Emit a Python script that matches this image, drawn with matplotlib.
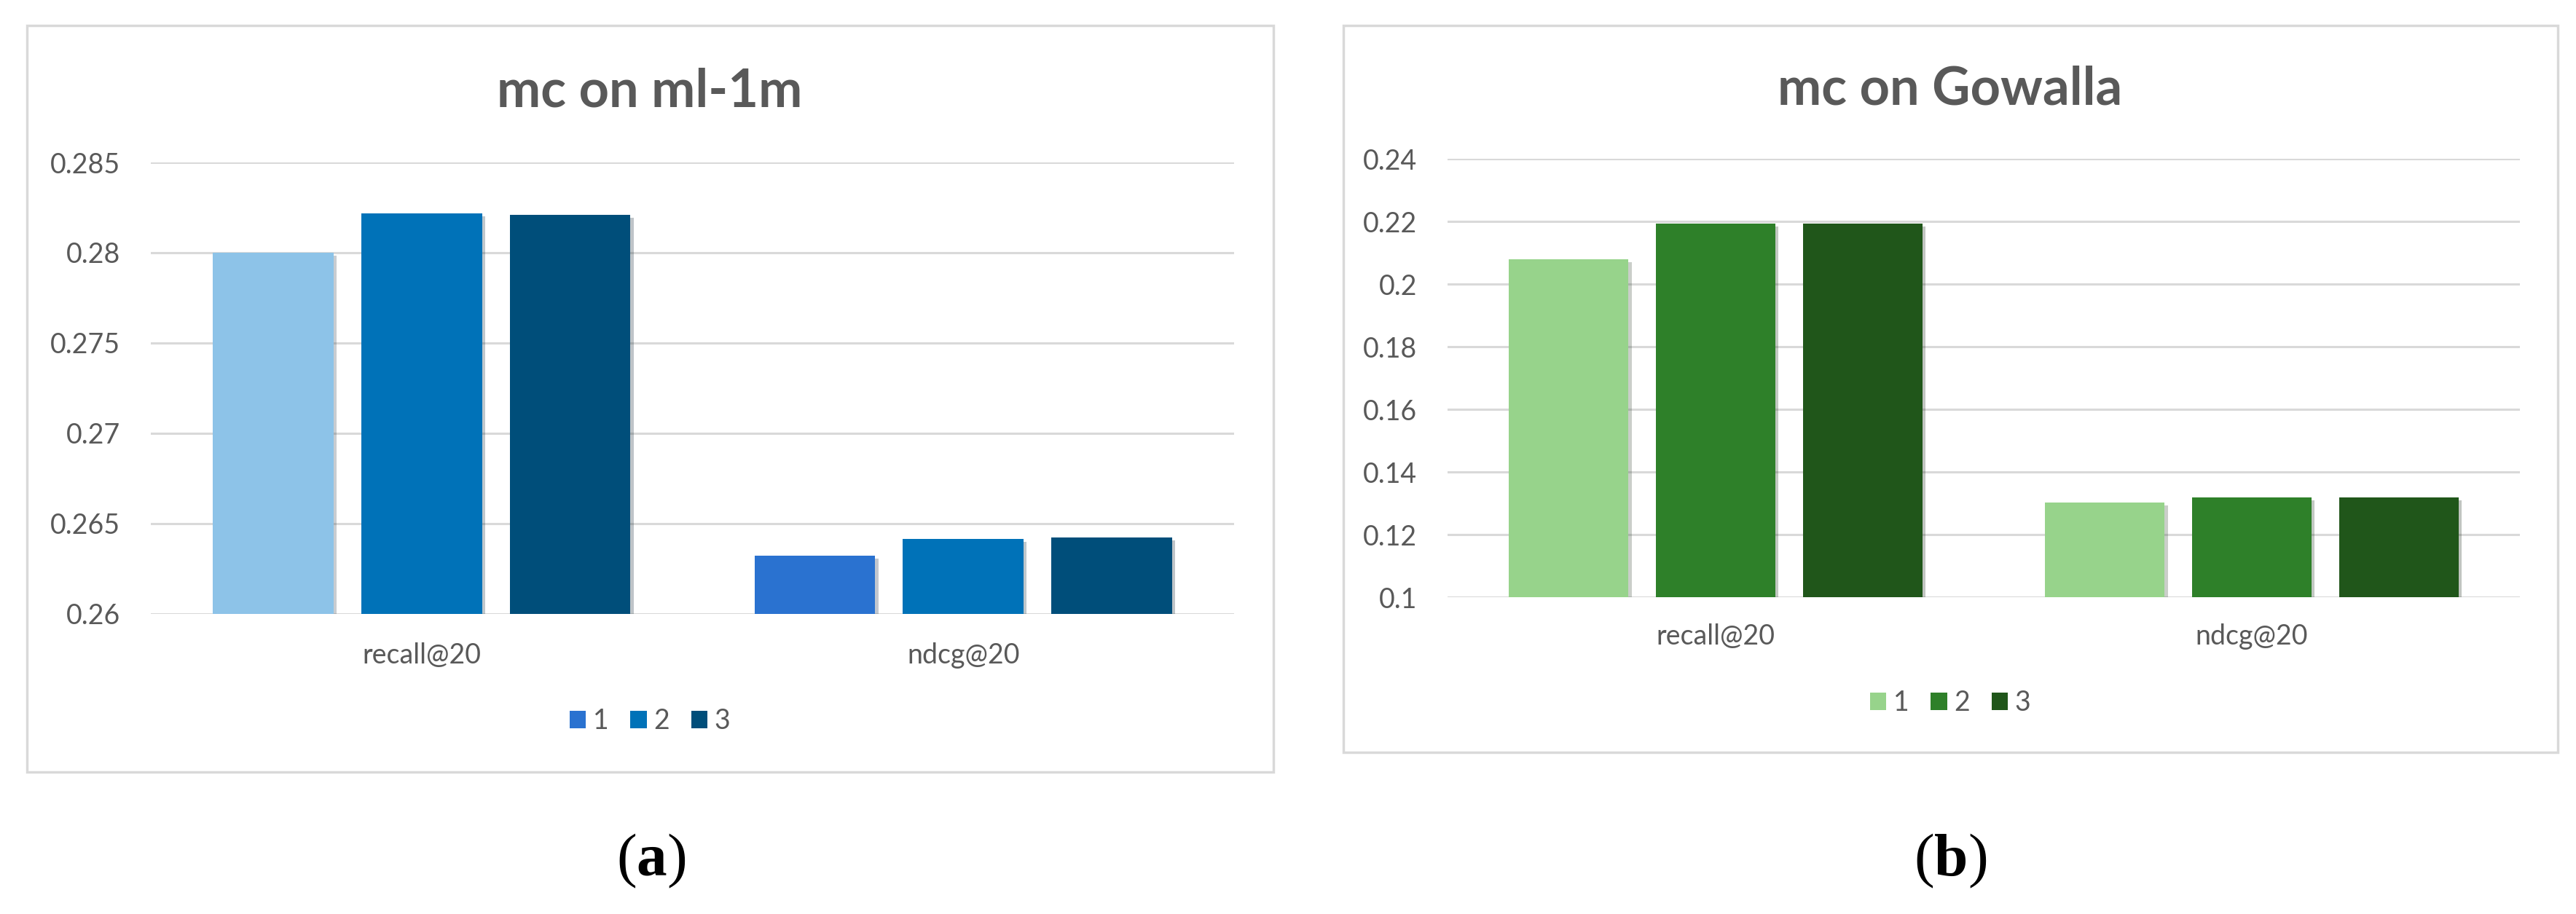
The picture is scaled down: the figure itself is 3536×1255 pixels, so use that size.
import matplotlib
matplotlib.use('Agg')
import matplotlib.pyplot as plt
import matplotlib.patheffects as pe
from matplotlib.patches import Rectangle, Patch
import numpy as np

plt.rcParams['font.family'] = ['Lato', 'DejaVu Sans']
plt.rcParams['mathtext.fontset'] = 'custom'
plt.rcParams['mathtext.rm'] = 'Liberation Serif'
plt.rcParams['mathtext.bf'] = 'Liberation Serif:bold'

# data
categories = ['recall@20', 'ndcg@20']
series_names = ['1', '2', '3']

ml1m_s1 = [0.2800, 0.26323]
ml1m_s2 = [0.28218, 0.26415]
ml1m_s3 = [0.2821, 0.26423]
ml1m_ticks = [0.26, 0.265, 0.27, 0.275, 0.28, 0.285]
ml1m_ticklabels = ['0.26', '0.265', '0.27', '0.275', '0.28', '0.285']

gow_s1 = [0.2079, 0.1302]
gow_s2 = [0.2193, 0.1319]
gow_s3 = [0.2193, 0.1319]
gow_ticks = [0.1, 0.12, 0.14, 0.16, 0.18, 0.2, 0.22, 0.24]
gow_ticklabels = ['0.1', '0.12', '0.14', '0.16', '0.18', '0.2', '0.22', '0.24']

# colours per bar (series x category), and legend swatches
blue_colors = [['#8DC3E8', '#2A72D0'], ['#0072B8', '#0072B8'], ['#004E7A', '#004E7A']]
blue_legend = ['#2A72D0', '#0072B8', '#004E7A']
green_colors = [['#97D38B', '#97D38B'], ['#2E8029', '#2E8029'], ['#20561A', '#20561A']]
green_legend = ['#97D38B', '#2E8029', '#20561A']

TXT = '#595959'
GRID = '#D9D9D9'

fig = plt.figure(figsize=(35.36, 12.55), dpi=100)


def draw_panel(rect, box, values, colors, legend_colors, ticks, ticklabels,
               title, title_xy, legend_xy, xpad, label_xy, label):
    ax = fig.add_axes(rect)
    x = np.arange(len(categories))
    offsets = [-0.274, 0.0, 0.274]
    ymin, ymax = ticks[0], ticks[-1]
    for i, vals in enumerate(values):
        heights = [v - ymin for v in vals]
        bars = ax.bar(x + offsets[i], heights, width=0.223, bottom=ymin,
                      color=colors[i], zorder=3)
        for b in bars:
            b.set_path_effects([pe.SimplePatchShadow(offset=(3, -3), alpha=0.25),
                                pe.Normal()])
    ax.set_xlim(-0.5, 1.5)
    ax.set_ylim(ymin, ymax)
    ax.set_yticks(ticks)
    ax.set_yticklabels(ticklabels)
    ax.set_xticks(x)
    ax.set_xticklabels(categories)
    ax.tick_params(axis='y', length=0, pad=30, labelsize=27, labelcolor=TXT)
    ax.tick_params(axis='x', length=0, pad=xpad, labelsize=27, labelcolor=TXT)
    ax.yaxis.grid(True, color=GRID, lw=2.2, zorder=0)
    ax.set_axisbelow(True)
    for s in ax.spines.values():
        s.set_visible(False)

    fig.add_artist(Rectangle(box[:2], box[2], box[3], transform=fig.transFigure,
                             fill=False, edgecolor=GRID, lw=2.5))
    fig.text(title_xy[0], title_xy[1], title, ha='center', va='center',
             fontsize=52, fontweight='bold', color=TXT)
    handles = [Patch(facecolor=c) for c in legend_colors]
    fig.legend(handles, series_names, loc='center', bbox_to_anchor=legend_xy,
               ncol=3, frameon=False, handlelength=0.6, handleheight=0.6,
               handletextpad=0.25, columnspacing=0.8, fontsize=27,
               labelcolor=TXT)
    fig.text(label_xy[0], label_xy[1], label, ha='center', va='center',
             fontsize=60, color='black')


draw_panel([0.05854, 0.32829, 0.42053, 0.49402],
           (0.01046, 0.15538, 0.48388, 0.81673),
           [ml1m_s1, ml1m_s2, ml1m_s3], blue_colors, blue_legend,
           ml1m_ticks, ml1m_ticklabels, 'mc on ml-1m', (0.2523, 0.8996),
           (0.2523, 0.2112), 28, (0.2528, 0.058), r'$(\mathbf{a})$')

draw_panel([0.56193, 0.34661, 0.41629, 0.47968],
           (0.52149, 0.17689, 0.47144, 0.79522),
           [gow_s1, gow_s2, gow_s3], green_colors, green_legend,
           gow_ticks, gow_ticklabels, 'mc on Gowalla', (0.7571, 0.9020),
           (0.7571, 0.2311), 26, (0.7571, 0.058), r'$(\mathbf{b})$')

fig.savefig('out.png', dpi=100, facecolor='white')
